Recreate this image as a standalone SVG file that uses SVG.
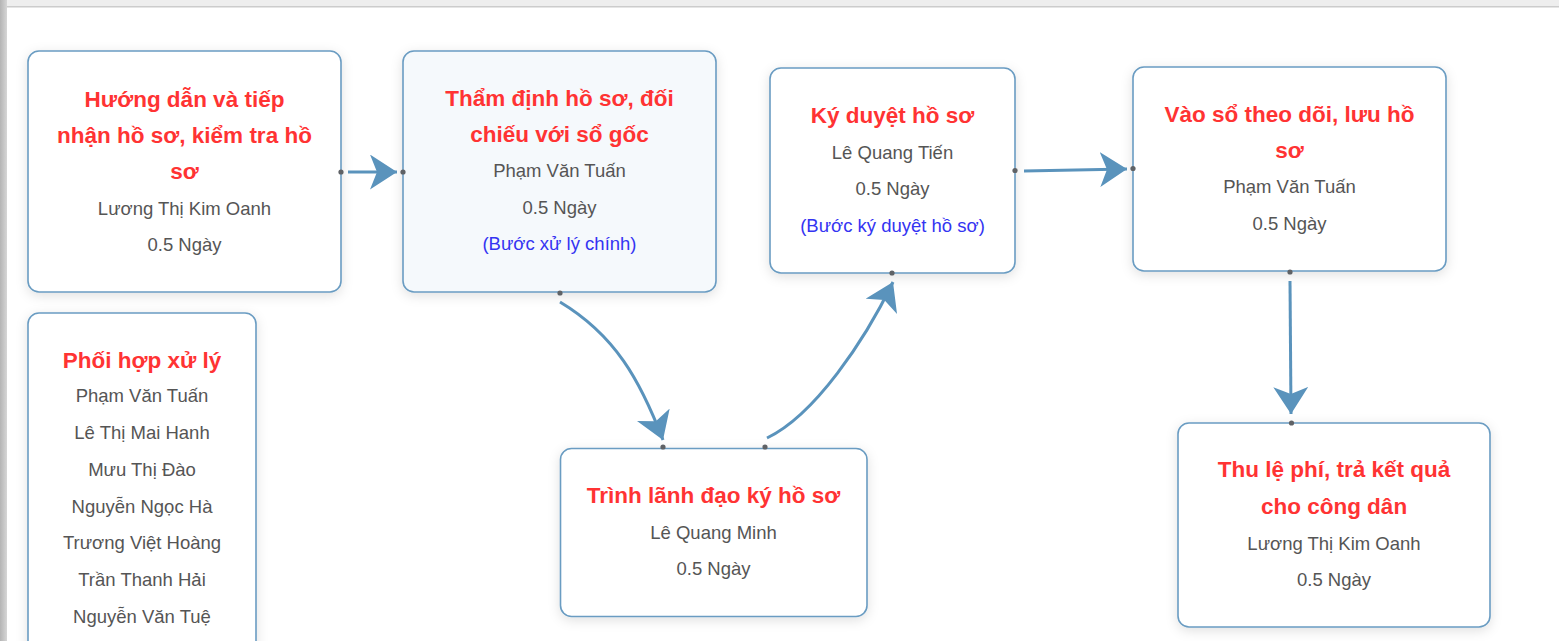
<svg xmlns="http://www.w3.org/2000/svg" width="1559" height="641" viewBox="0 0 1559 641">
<defs>
<style>
.box{fill:#ffffff;stroke:#6a9cc2;stroke-width:1.6}
.main{fill:#f5f9fc}
.t{font-family:"Liberation Sans",Arial,sans-serif;font-weight:bold;font-size:22.5px;fill:#ff3333;text-anchor:middle}
.s{font-family:"Liberation Sans",Arial,sans-serif;font-size:18.5px;fill:#555555;text-anchor:middle}
.b{font-family:"Liberation Sans",Arial,sans-serif;font-size:18.5px;fill:#3434f2;text-anchor:middle}
.edge{fill:none;stroke:#5a93bc;stroke-width:3;marker-end:url(#arr)}
.dot{fill:#5f6266}
</style>
<marker id="arr" markerUnits="userSpaceOnUse" markerWidth="28" markerHeight="35" refX="27" refY="17.5" orient="auto">
<path d="M0,0 L27,17.5 L0,35 L7,17.5 Z" fill="#5a93bc"/>
</marker>
<filter id="sh" x="-10%" y="-10%" width="120%" height="125%">
<feDropShadow dx="0" dy="3" stdDeviation="6" flood-color="#000" flood-opacity="0.12"/>
</filter>
<linearGradient id="lg" x1="0" y1="0" x2="1" y2="0">
<stop offset="0" stop-color="#b4b4b4"/>
<stop offset="1" stop-color="#d6d6d6"/>
</linearGradient>
</defs>
<rect x="0" y="0" width="1559" height="641" fill="#ffffff"/>
<rect x="0" y="0" width="1559" height="6" fill="#eeeeee"/>
<rect x="0" y="6" width="1559" height="1.5" fill="#cccccc"/>
<rect x="0" y="0" width="7" height="641" fill="url(#lg)"/>

<g id="n1">
<rect class="box" x="28" y="51" width="313" height="241" rx="11" filter="url(#sh)"/>
<text class="t" x="184.5" y="107">Hướng dẫn và tiếp</text>
<text class="t" x="184.5" y="143">nhận hồ sơ, kiểm tra hồ</text>
<text class="t" x="184.5" y="179">sơ</text>
<text class="s" x="184.5" y="215">Lương Thị Kim Oanh</text>
<text class="s" x="184.5" y="251">0.5 Ngày</text>
</g>

<g id="n2">
<rect class="box main" x="403" y="51" width="313" height="241" rx="11" filter="url(#sh)"/>
<text class="t" x="559.5" y="106">Thẩm định hồ sơ, đối</text>
<text class="t" x="559.5" y="142">chiếu với sổ gốc</text>
<text class="s" x="559.5" y="177">Phạm Văn Tuấn</text>
<text class="s" x="559.5" y="214">0.5 Ngày</text>
<text class="b" x="559.5" y="250">(Bước xử lý chính)</text>
</g>

<g id="n3">
<rect class="box" x="770" y="68" width="245" height="205" rx="11" filter="url(#sh)"/>
<text class="t" x="892.5" y="123">Ký duyệt hồ sơ</text>
<text class="s" x="892.5" y="159">Lê Quang Tiến</text>
<text class="s" x="892.5" y="195">0.5 Ngày</text>
<text class="b" x="892.5" y="231.5">(Bước ký duyệt hồ sơ)</text>
</g>

<g id="n4">
<rect class="box" x="1133" y="67" width="313" height="204" rx="11" filter="url(#sh)"/>
<text class="t" x="1289.5" y="121.5">Vào sổ theo dõi, lưu hồ</text>
<text class="t" x="1289.5" y="157.5">sơ</text>
<text class="s" x="1289.5" y="193">Phạm Văn Tuấn</text>
<text class="s" x="1289.5" y="230">0.5 Ngày</text>
</g>

<g id="n5">
<rect class="box" x="28" y="313" width="228" height="340" rx="11" filter="url(#sh)"/>
<text class="t" x="142" y="368">Phối hợp xử lý</text>
<text class="s" x="142" y="402">Phạm Văn Tuấn</text>
<text class="s" x="142" y="439">Lê Thị Mai Hanh</text>
<text class="s" x="142" y="476">Mưu Thị Đào</text>
<text class="s" x="142" y="512.5">Nguyễn Ngọc Hà</text>
<text class="s" x="142" y="549">Trương Việt Hoàng</text>
<text class="s" x="142" y="586">Trần Thanh Hải</text>
<text class="s" x="142" y="622.5">Nguyễn Văn Tuệ</text>
</g>

<g id="n6">
<rect class="box" x="560.5" y="448.5" width="306.5" height="168" rx="11" filter="url(#sh)"/>
<text class="t" x="713.5" y="503">Trình lãnh đạo ký hồ sơ</text>
<text class="s" x="713.5" y="539">Lê Quang Minh</text>
<text class="s" x="713.5" y="575">0.5 Ngày</text>
</g>

<g id="n7">
<rect class="box" x="1178" y="423" width="312" height="204" rx="11" filter="url(#sh)"/>
<text class="t" x="1334" y="477">Thu lệ phí, trả kết quả</text>
<text class="t" x="1334" y="514">cho công dân</text>
<text class="s" x="1334" y="549.5">Lương Thị Kim Oanh</text>
<text class="s" x="1334" y="585.5">0.5 Ngày</text>
</g>

<g id="connectors">
<path class="edge" d="M348,172 L397,172"/>
<path class="edge" d="M1024,171 L1127,169"/>
<path class="edge" d="M560,302 C615,335 640,380 663,440"/>
<path class="edge" d="M767,438 C815,415 865,340 893,282"/>
<path class="edge" d="M1290,281 L1291,414"/>
<circle class="dot" cx="341" cy="172" r="2.6"/>
<circle class="dot" cx="403" cy="172" r="2.6"/>
<circle class="dot" cx="560" cy="293" r="2.6"/>
<circle class="dot" cx="663" cy="447" r="2.6"/>
<circle class="dot" cx="765" cy="447" r="2.6"/>
<circle class="dot" cx="892" cy="273" r="2.6"/>
<circle class="dot" cx="1015" cy="170.5" r="2.6"/>
<circle class="dot" cx="1133" cy="168.5" r="2.6"/>
<circle class="dot" cx="1290" cy="272" r="2.6"/>
<circle class="dot" cx="1291.5" cy="423" r="2.6"/>
</g>
</svg>
